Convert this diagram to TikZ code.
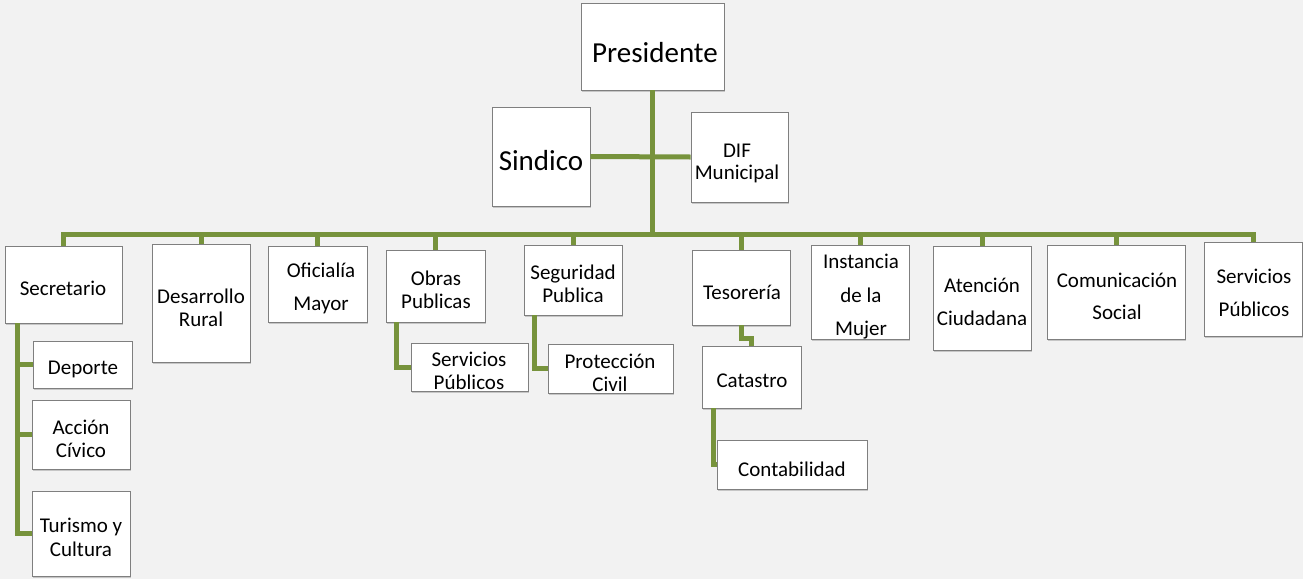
\documentclass[tikz,border=0pt]{standalone}
\usepackage{fontspec}
\setmainfont{Carlito}
\usetikzlibrary{fit,shadows}
\definecolor{bgc}{HTML}{F2F2F2}
\definecolor{lnk}{HTML}{77933C}
\definecolor{brd}{HTML}{7F7F7F}
\begin{document}
\begin{tikzpicture}[x=1pt,y=-1pt,
  box/.style={draw=brd,line width=0.8pt,fill=white,inner sep=0pt,
    drop shadow={shadow xshift=1.2pt,shadow yshift=-2pt,opacity=0.18,fill=black}},
  txt/.style={align=center,inner sep=0pt,font=\fontsize{21}{23.5}\selectfont},
  wide/.style={font=\fontsize{21}{32.5}\selectfont},
  big/.style={font=\fontsize{29}{34}\selectfont},
  conn/.style={draw=lnk,line width=5pt}]
\fill[bgc] (0,0) rectangle (1303,579);
\useasboundingbox (0,0) rectangle (1303,579);
% boxes
\node[box,fit={(581,3)(724,90)}] (pres) {};
\node[box,fit={(492,107)(590,206)}] (sin) {};
\node[box,fit={(691,112)(788,202)}] (dif) {};
\node[box,fit={(5,246)(122,323)}] (sec) {};
\node[box,fit={(152,244)(250,362)}] (des) {};
\node[box,fit={(268,246)(367,322)}] (ofi) {};
\node[box,fit={(386,250)(485,322)}] (obr) {};
\node[box,fit={(524,245)(622,315)}] (seg) {};
\node[box,fit={(692,250)(790,325)}] (tes) {};
\node[box,fit={(811,245)(909,339)}] (ins) {};
\node[box,fit={(933,246)(1031,350)}] (ate) {};
\node[box,fit={(1047,245)(1185,339)}] (com) {};
\node[box,fit={(1204,242)(1302,336)}] (ser) {};
\node[box,fit={(33,341)(132,388)}] (dep) {};
\node[box,fit={(32,400)(130,469)}] (acc) {};
\node[box,fit={(32,491)(130,576)}] (tur) {};
\node[box,fit={(411,343)(528,391)}] (sps) {};
\node[box,fit={(548,344)(673,393)}] (pro) {};
\node[box,fit={(702,346)(801,408)}] (cat) {};
\node[box,fit={(717,440)(867,489)}] (con) {};
% connectors
\coordinate (bus) at (653,234);
\draw[conn] (sec.north) |- (bus) -| (ser.north);
\draw[conn] (pres.south) -- (pres.south |- bus);
\draw[conn] (sin.east) -- (dif.west);
\foreach \n in {des,ofi,obr,seg,tes,ins,ate,com}
  \draw[conn] (\n.north) -- (\n.north |- bus);
\coordinate (secB) at (17,323);
\draw[conn] (secB) |- (tur.west);
\draw[conn] (secB |- dep.west) -- (dep.west);
\draw[conn] (secB |- acc.west) -- (acc.west);
\coordinate (obrB) at (396,322);
\draw[conn] (obrB) |- (sps.west);
\coordinate (segB) at (534,315);
\draw[conn] (segB) |- (pro.west);
\coordinate (tesM) at (747,338);
\draw[conn] (tes.south) |- (tesM) -| (cat.north);
\coordinate (catB) at (713,408);
\draw[conn] (catB) |- (con.west);
% texts
\node[txt,big] (presT) at (655,53) {Presidente};
\node[txt,big] (sinT) at (541,161) {Sindico};
\node[txt,font=\fontsize{21}{22}\selectfont] (difT) at (737,163) {DIF\\Municipal};
\node[txt] (secT) at (63,288) {Secretario};
\node[txt] (desT) at (201,308) {Desarrollo\\Rural};
\node[txt,wide] (ofiT) at (321,288.5) {Oficialía\\Mayor};
\node[txt] (obrT) at (436,290) {Obras\\Publicas};
\node[txt] (segT) at (573,284) {Seguridad\\Publica};
\node[txt] (tesT) at (742,292) {Tesorería};
\node[txt,font=\fontsize{21}{33.5}\selectfont] (insT) at (861,297) {Instancia\\de la\\Mujer};
\node[txt,wide] (ateT) at (982,302) {Atención\\Ciudadana};
\node[txt,font=\fontsize{21}{31.5}\selectfont] (comT) at (1117,296.5) {Comunicación\\Social};
\node[txt,wide] (serT) at (1254,293) {Servicios\\Públicos};
\node[txt] (depT) at (83,369) {Deporte};
\node[txt] (accT) at (81,439) {Acción\\Cívico};
\node[txt] (turT) at (81,537.5) {Turismo y\\Cultura};
\node[txt] (spsT) at (469,371) {Servicios\\Públicos};
\node[txt] (proT) at (610,373) {Protección\\Civil};
\node[txt] (catT) at (752,381) {Catastro};
\node[txt] (conT) at (792,469) {Contabilidad};
\end{tikzpicture}
\end{document}
